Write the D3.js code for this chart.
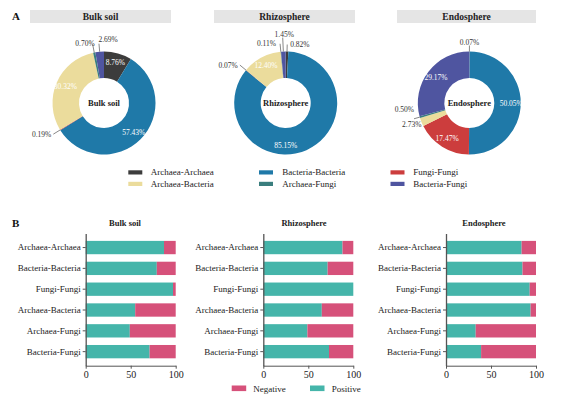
<!DOCTYPE html>
<html>
<head>
<meta charset="utf-8">
<script src="https://cdn.jsdelivr.net/npm/d3@7"></script>
<style>
  body { margin: 0; background: #fff; }
  text { font-family: "Liberation Serif", "DejaVu Serif", serif; }
</style>
</head>
<body>
<script>
// data
const groups = ["Bulk soil", "Rhizosphere", "Endosphere"];
const types = ["Archaea-Archaea", "Bacteria-Bacteria", "Fungi-Fungi",
               "Archaea-Bacteria", "Archaea-Fungi", "Bacteria-Fungi"];
const bulkPct = [8.76, 57.43, 0.19, 30.32, 0.70, 2.69];
const rhizoPct = [0.82, 85.15, 0.07, 12.40, 0.11, 1.45];
const endoPct = [0.07, 50.05, 17.47, 2.73, 0.50, 29.17];
const bulkPositive = [87, 79, 97, 55, 49, 71];
const rhizoPositive = [88, 71.5, 100, 65, 49, 73];
const endoPositive = [84, 85, 93, 94, 33, 39];
const xTicks = [0, 50, 100];

const typeColors = ["#3c3c3c", "#1f79a8", "#cc3d3d", "#ebdc9c", "#3a7e7e", "#4f55a0"];
const posColor = "#45b5aa", negColor = "#d6517a";

const width = 562, height = 400;
const svg = d3.select("body").append("svg")
  .attr("width", width).attr("height", height);

// ---------- A: donuts ----------
const donutCx = [104, 285.7, 469.3];
const donutCy = 103;
const rOut = 51.5, rIn = 25, rLabel = 42;
const boxX = [[30, 171], [214, 355], [397, 536]];

// label layout per slice: null = inside label, else leader/label placement
const labelLayout = [
  [null, null, {len: 8, dx: -2, dy: 3, anchor: "end"}, null,
   {len: 8, dx: 2, dy: 1.5, anchor: "end"}, {len: 8, dx: -0.5, dy: -1.7, anchor: "start"}],
  [{len: 7, dx: 3, dy: 2, anchor: "start"}, {angle: 180}, {len: 8, dx: -2, dy: 3, anchor: "end"}, null,
   {len: 8, dx: -4, dy: 2, anchor: "end"}, {len: 14, dx: 1.5, dy: -0.5, anchor: "middle"}],
  [{len: 6, dx: 0, dy: -1, anchor: "middle"}, null, null,
   {len: 0, dx: 0, dy: 5, anchor: "end"}, {len: 6, dx: 0, dy: -7, anchor: "end"}, null]
];

svg.append("text").attr("x", 12).attr("y", 20)
  .attr("font-size", 11).attr("font-weight", "bold").attr("fill", "#111").text("A");

const pie = d3.pie().sort(null).value(d => d);
const arc = d3.arc().innerRadius(rIn).outerRadius(rOut);
const polar = (r, a) => [r * Math.sin(a), -r * Math.cos(a)];

[bulkPct, rhizoPct, endoPct].forEach((vals, gi) => {
  svg.append("rect")
    .attr("x", boxX[gi][0]).attr("y", 10)
    .attr("width", boxX[gi][1] - boxX[gi][0]).attr("height", 13)
    .attr("fill", "#e5e5e5");
  svg.append("text")
    .attr("x", (boxX[gi][0] + boxX[gi][1]) / 2).attr("y", 20)
    .attr("text-anchor", "middle").attr("font-size", 9.5).attr("font-weight", "bold")
    .attr("fill", "#222").text(groups[gi]);

  const g = svg.append("g").attr("transform", `translate(${donutCx[gi]},${donutCy})`);
  const arcs = pie(vals);
  g.selectAll("path").data(arcs).enter().append("path")
    .attr("d", arc)
    .attr("fill", (d, i) => typeColors[i]);

  arcs.forEach((d, i) => {
    const spec = labelLayout[gi][i];
    const mid = (d.startAngle + d.endAngle) / 2;
    const txt = d.data.toFixed(2) + "%";
    if (spec === null || spec.angle !== undefined) {
      const a = spec && spec.angle !== undefined ? spec.angle * Math.PI / 180 : mid;
      const p = polar(rLabel, a);
      g.append("text").attr("x", p[0]).attr("y", p[1])
        .attr("text-anchor", "middle").attr("dominant-baseline", "central")
        .attr("font-size", 7.5).attr("fill", "#fff").text(txt);
    } else {
      const p0 = polar(rOut, mid), p1 = polar(rOut + spec.len, mid);
      if (spec.len > 0) {
        g.append("line")
          .attr("x1", p0[0]).attr("y1", p0[1]).attr("x2", p1[0]).attr("y2", p1[1])
          .attr("stroke", "#555").attr("stroke-width", 0.7);
      }
      g.append("text").attr("x", p1[0] + spec.dx).attr("y", p1[1] + spec.dy)
        .attr("text-anchor", spec.anchor)
        .attr("font-size", 7.5).attr("fill", "#333").text(txt);
    }
  });

  g.append("text").attr("y", 0).attr("dominant-baseline", "central")
    .attr("text-anchor", "middle").attr("font-size", 8.5).attr("font-weight", "bold")
    .attr("fill", "#222").text(groups[gi]);
});

// legend for types
const legX = [128.3, 259, 390.5], legTextX = [150.7, 282.3, 413.3];
const legY = [172.3, 183.8];
// column-major order as in reference
const legOrder = [0, 3, 1, 4, 2, 5];
legOrder.forEach((ti, k) => {
  const col = Math.floor(k / 2), row = k % 2;
  svg.append("rect").attr("x", legX[col]).attr("y", legY[row] - 2)
    .attr("width", 14).attr("height", 4.2).attr("fill", typeColors[ti]);
  svg.append("text").attr("x", legTextX[col]).attr("y", legY[row])
    .attr("dominant-baseline", "central").attr("font-size", 9)
    .attr("fill", "#222").text(types[ti]);
});

// ---------- B: stacked bars ----------
svg.append("text").attr("x", 12).attr("y", 227)
  .attr("font-size", 11).attr("font-weight", "bold").attr("fill", "#111").text("B");

const barX = [[85.7, 175.7], [263.3, 353.3], [446, 536]];
const titleX = [125, 304, 484];
const axisY = 365.7;
const y = d3.scaleBand().domain(types).range([233.5, axisY])
  .paddingInner(0.36).paddingOuter(0.355);

[bulkPositive, rhizoPositive, endoPositive].forEach((pos, gi) => {
  const x = d3.scaleLinear().domain([0, 100]).range(barX[gi]);
  const g = svg.append("g");

  svg.append("text").attr("x", titleX[gi]).attr("y", 226)
    .attr("text-anchor", "middle").attr("font-size", 8.5).attr("font-weight", "bold")
    .attr("fill", "#222").text(groups[gi]);

  g.selectAll("rect.pos").data(pos).enter().append("rect")
    .attr("x", x(0)).attr("y", (d, i) => y(types[i]))
    .attr("width", d => x(d) - x(0)).attr("height", y.bandwidth())
    .attr("fill", posColor);
  g.selectAll("rect.neg").data(pos).enter().append("rect")
    .attr("x", d => x(d)).attr("y", (d, i) => y(types[i]))
    .attr("width", d => x(100) - x(d)).attr("height", y.bandwidth())
    .attr("fill", negColor);

  const ya = svg.append("g").attr("transform", `translate(${barX[gi][0]},0)`)
    .call(d3.axisLeft(y).tickSize(3).tickSizeOuter(0).tickPadding(2));
  ya.select(".domain").attr("stroke", "#555").attr("stroke-width", 1.3);
  ya.selectAll(".tick line").attr("stroke", "#555");
  ya.selectAll(".tick text").attr("font-size", 9).attr("fill", "#222")
    .style("font-family", '"Liberation Serif", serif');

  const xa = svg.append("g").attr("transform", `translate(0,${axisY})`)
    .call(d3.axisBottom(x).tickValues(xTicks).tickSize(3).tickSizeOuter(0).tickPadding(2));
  xa.select(".domain").attr("stroke", "#555").attr("stroke-width", 1);
  xa.selectAll(".tick line").attr("stroke", "#555");
  xa.selectAll(".tick text").attr("font-size", 10).attr("fill", "#222")
    .style("font-family", '"Liberation Serif", serif');
});

// legend bottom
const signLeg = [{name: "Negative", color: negColor, x: 231.7, tx: 253.3},
                 {name: "Positive", color: posColor, x: 310, tx: 331.7}];
signLeg.forEach(s => {
  svg.append("rect").attr("x", s.x).attr("y", 385.5)
    .attr("width", 14.5).attr("height", 5.6).attr("fill", s.color);
  svg.append("text").attr("x", s.tx).attr("y", 388.5)
    .attr("dominant-baseline", "central").attr("font-size", 9)
    .attr("fill", "#222").text(s.name);
});
</script>
</body>
</html>
